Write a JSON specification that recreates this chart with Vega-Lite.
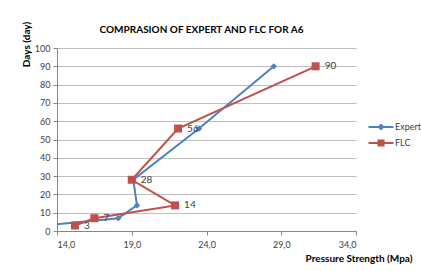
{
  "$schema": "https://vega.github.io/schema/vega-lite/v6.json",
  "width": 299,
  "height": 183,
  "autosize": "none",
  "padding": {"left": 57, "top": 48, "right": 65, "bottom": 40},
  "background": "white",
  "config": {
    "font": "Lato",
    "view": {"stroke": null},
    "axis": {"labelFont": "Lato", "labelFontSize": 9, "labelColor": "#404040", "titleFont": "Lato"},
    "legend": {
      "title": null,
      "orient": "none",
      "legendX": 318,
      "legendY": 73,
      "padding": 0,
      "symbolSize": 144,
      "symbolOpacity": 1,
      "symbolStrokeWidth": 0,
      "labelOffset": 8,
      "labelFontSize": 9,
      "labelFont": "Lato",
      "labelColor": "#404040",
      "rowPadding": 5
    }
  },
  "title": {
    "text": "COMPRASION OF EXPERT AND FLC FOR A6",
    "fontSize": 10,
    "fontWeight": "bold",
    "color": "#000000",
    "anchor": "middle",
    "frame": "group",
    "dx": -5,
    "dy": 28,
    "offset": 14
  },
  "data": {
    "values": [
      {"series": "Expert", "strength": 13.1, "day": 3},
      {"series": "Expert", "strength": 18.1, "day": 7},
      {"series": "Expert", "strength": 19.35, "day": 14},
      {"series": "Expert", "strength": 19.1, "day": 28},
      {"series": "Expert", "strength": 23.5, "day": 56},
      {"series": "Expert", "strength": 28.5, "day": 90},
      {"series": "FLC", "strength": 15.2, "day": 3},
      {"series": "FLC", "strength": 16.5, "day": 7},
      {"series": "FLC", "strength": 21.9, "day": 14},
      {"series": "FLC", "strength": 19.0, "day": 28},
      {"series": "FLC", "strength": 22.1, "day": 56},
      {"series": "FLC", "strength": 31.3, "day": 90}
    ]
  },
  "encoding": {
    "x": {
      "field": "strength",
      "type": "quantitative",
      "scale": {"domain": [14, 34], "nice": false, "zero": false},
      "axis": {
        "values": [14, 19, 24, 29, 34],
        "labelExpr": "replace(format(datum.value, '.1f'), '.', ',')",
        "grid": false,
        "domainColor": "#868686",
        "tickColor": "#868686",
        "tickSize": 4,
        "labelPadding": 5,
        "title": "Pressure Strength (Mpa)",
        "titleFontSize": 10,
        "titleFontWeight": "bold",
        "titleColor": "#000000",
        "titleAnchor": "end",
        "titleAlign": "right",
        "titleX": 355,
        "titleY": 27,
        "titleBaseline": "middle"
      }
    },
    "y": {
      "field": "day",
      "type": "quantitative",
      "scale": {"domain": [0, 100], "nice": false},
      "axis": {
        "values": [0, 10, 20, 30, 40, 50, 60, 70, 80, 90, 100],
        "grid": true,
        "gridColor": "#BFBFBF",
        "domainColor": "#868686",
        "tickColor": "#868686",
        "tickSize": 4,
        "labelPadding": 3,
        "title": "Days (day)",
        "titleFontSize": 10,
        "titleFontWeight": "bold",
        "titleColor": "#000000",
        "titleAngle": -90,
        "titleAlign": "center",
        "titleBaseline": "middle",
        "titleX": -31,
        "titleY": -4
      }
    }
  },
  "layer": [
    {
      "transform": [{"filter": "datum.series === 'Expert'"}],
      "mark": {"type": "line", "strokeWidth": 2, "clip": true, "color": "#4F81BD"},
      "encoding": {"order": {"field": "day", "type": "quantitative"}}
    },
    {
      "transform": [{"filter": "datum.series === 'FLC'"}],
      "mark": {"type": "line", "strokeWidth": 2, "clip": true, "color": "#C0504D"},
      "encoding": {"order": {"field": "day", "type": "quantitative"}}
    },
    {
      "transform": [{"filter": "datum.series === 'Expert'"}],
      "mark": {"type": "point", "filled": true, "opacity": 1, "clip": true, "shape": "diamond", "size": 40, "color": "#4F81BD"}
    },
    {
      "transform": [{"filter": "datum.series === 'FLC'"}],
      "mark": {"type": "point", "filled": true, "opacity": 1, "clip": true, "shape": "square", "size": 64, "color": "#C0504D"}
    },
    {
      "transform": [{"filter": "datum.series === 'FLC'"}],
      "mark": {"type": "text", "align": "left", "baseline": "middle", "dx": 9, "fontSize": 10, "font": "Lato", "color": "#404040"},
      "encoding": {
        "text": {"field": "day", "type": "quantitative"}
      }
    },
    {
      "mark": {"type": "point", "filled": true, "opacity": 0, "clip": true, "size": 1},
      "encoding": {
        "color": {
          "field": "series",
          "type": "nominal",
          "scale": {"domain": ["Expert", "FLC"], "range": ["#4F81BD", "#C0504D"]}
        },
        "shape": {
          "field": "series",
          "type": "nominal",
          "scale": {"domain": ["Expert", "FLC"], "range": ["M-2.08,-0.17H2.08V0.17H-2.08Z M0,-0.6L0.6,0L0,0.6L-0.6,0Z", "M-2.08,-0.17H2.08V0.17H-2.08Z M-0.6,-0.6H0.6V0.6H-0.6Z"]}
        }
      }
    }
  ]
}
